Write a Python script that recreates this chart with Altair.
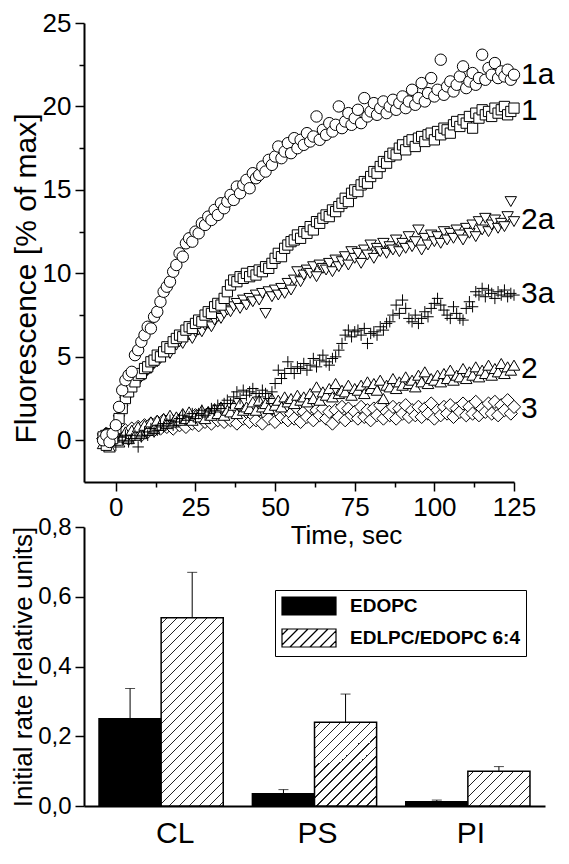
import altair as alt
import pandas as pd

# ---------------- data ----------------
TIME = [-4, -3, -2, -1, 0, 1, 2, 3, 4, 5,
        6, 7, 8, 9, 10, 11, 12, 13, 14, 15,
        16, 17, 18, 19, 20, 21, 22, 23, 24, 25,
        26, 27, 28, 29, 30, 31, 32, 33, 34, 35,
        36, 37, 38, 39, 40, 41, 42, 43, 44, 45,
        46, 47, 48, 49, 50, 51, 52, 53, 54, 55,
        56, 57, 58, 59, 60, 61, 62, 63, 64, 65,
        66, 67, 68, 69, 70, 71, 72, 73, 74, 75,
        76, 77, 78, 79, 80, 81, 82, 83, 84, 85,
        86, 87, 88, 89, 90, 91, 92, 93, 94, 95,
        96, 97, 98, 99, 100, 101, 102, 103, 104, 105,
        106, 107, 108, 109, 110, 111, 112, 113, 114, 115,
        116, 117, 118, 119, 120, 121, 122, 123, 124, 125]

S_1A = [0.0, 0.3, -0.1, 0.4, 0.9, 2.0, 3.0, 3.6, 3.9, 4.1,
        5.1, 5.4, 5.9, 6.3, 6.8, 6.7, 7.4, 7.7, 8.3, 8.9,
        9.2, 9.5, 10.1, 10.5, 11.2, 11.0, 11.8, 12.1, 11.9, 12.5,
        12.4, 13.0, 12.9, 13.4, 13.2, 13.8, 13.5, 14.2, 13.9, 14.3,
        14.7, 14.4, 15.2, 14.8, 15.3, 15.6, 15.1, 16.0, 15.7, 15.9,
        16.4, 16.1, 16.8, 16.5, 17.0, 17.6, 16.9, 17.3, 17.8, 17.2,
        18.1, 17.5, 18.0, 17.7, 18.4, 17.9, 18.2, 19.4, 18.0, 18.6,
        18.3, 19.0, 18.5, 18.9, 20.0, 18.7, 19.1, 19.6, 18.9, 19.3,
        19.8, 19.0, 20.5, 19.4, 19.7, 20.2, 19.5, 19.9, 20.3, 19.6,
        20.0, 20.4, 19.8, 20.2, 20.6, 19.9, 20.3, 21.0, 20.1, 20.5,
        21.4, 20.3, 20.8, 21.7, 20.6, 21.0, 22.8, 20.7, 21.2, 21.5,
        20.9, 21.3, 21.8, 22.4, 21.1, 21.5, 22.0, 21.3, 21.7, 23.1,
        21.6, 22.3, 21.9, 22.6, 21.7, 22.1, 21.8, 22.2, 21.6, 21.9]

S_1 = [0.2, -0.3, 0.4, 0.1, 0.7, 1.3, 1.9, 2.5, 2.9, 3.2,
       3.5, 3.9, 4.0, 4.3, 4.4, 4.7, 4.8, 5.1, 5.0, 5.3,
       5.6, 5.5, 5.9, 6.1, 6.3, 6.2, 6.6, 6.8, 6.7, 7.0,
       7.2, 7.1, 7.5, 7.7, 7.6, 8.0, 8.2, 8.1, 8.5, 8.9,
       9.3, 9.6, 9.5, 9.8, 9.7, 10.0, 9.8, 10.1, 9.9, 10.2,
       10.1, 10.4, 10.3, 10.6, 10.9, 11.2, 11.0, 11.5, 11.7, 11.9,
       12.0, 12.3, 12.1, 12.5, 12.4, 12.8, 12.6, 13.1, 13.0, 13.3,
       13.5, 13.4, 13.8, 13.7, 14.0, 14.2, 14.5, 14.3, 14.8, 15.0,
       14.9, 15.3, 15.5, 15.4, 15.8, 16.1, 16.0, 16.4, 16.7, 16.6,
       17.0, 17.2, 17.1, 17.5, 17.7, 17.4, 17.9, 18.0, 17.6, 18.1,
       18.2, 17.9, 18.3, 18.4, 18.0, 18.5, 18.3, 18.7, 18.6, 18.4,
       18.9, 19.1, 18.8, 19.2, 19.0, 19.4, 18.7, 19.6, 19.3, 19.8,
       19.5, 19.7, 19.4, 19.9, 19.6, 19.8, 20.0, 19.5, 19.7, 19.9]

S_2A = [0.1, 0.3, -0.2, 0.2, 0.6, 1.2, 1.8, 2.3, 2.7, 3.0,
        3.3, 3.5, 3.8, 3.9, 4.2, 4.3, 4.6, 4.7, 4.9, 5.1,
        5.3, 5.2, 5.6, 5.7, 5.9, 5.8, 6.2, 6.3, 6.1, 6.5,
        6.6, 6.5, 6.9, 7.0, 6.8, 7.2, 7.4, 7.3, 7.6, 7.8,
        7.7, 8.0, 8.2, 7.9, 8.4, 8.1, 8.5, 8.3, 8.7, 8.4,
        8.8, 7.6, 8.9, 8.6, 9.0, 8.7, 9.1, 8.8, 9.4, 9.0,
        9.6, 10.1, 9.5, 9.9, 10.2, 10.0, 10.4, 9.8, 10.5, 10.3,
        10.2, 10.6, 10.1, 10.8, 10.4, 10.7, 11.0, 10.5, 11.3, 10.9,
        11.2, 10.6, 11.4, 11.1, 11.7, 10.9, 11.5, 11.3, 11.8, 11.2,
        11.6, 11.4, 12.0, 11.3, 11.8, 11.5, 12.2, 11.6, 11.9, 12.6,
        11.4, 12.1, 11.7, 12.3, 11.9, 12.2, 11.8, 12.5, 12.0, 12.4,
        12.1, 12.6, 12.3, 12.0, 12.7, 12.4, 12.9, 12.2, 13.1, 12.6,
        13.3, 12.5, 12.9, 13.2, 12.7, 13.0, 12.8, 13.4, 14.3, 13.1]

S_3A = [0.3, -0.2, 0.1, 0.4, -0.3, 0.2, 0.0, 0.3, -0.1, 0.1,
        0.3, -0.4, 0.2, 0.5, 0.3, 0.7, 0.5, 0.6, 0.9, 0.8,
        1.0, 1.2, 0.9, 1.1, 1.3, 1.5, 1.2, 1.4, 1.6, 1.3,
        1.6, 1.8, 1.5, 1.7, 1.9, 1.8, 2.1, 1.9, 2.2, 2.4,
        2.2, 2.6, 2.9, 2.5, 3.0, 2.7, 2.9, 3.1, 2.8, 2.6,
        3.0, 2.8, 2.5, 2.9, 3.4, 4.2, 3.7, 4.0, 4.7, 4.3,
        4.0, 4.4, 4.3, 4.6, 4.2, 4.5, 4.9, 4.4, 4.8, 5.1,
        4.7, 4.5, 4.9, 5.0, 5.4, 5.8, 6.3, 6.6, 6.2, 6.5,
        6.6, 6.3, 6.7, 5.8, 6.4, 6.5, 6.3, 6.8, 6.6, 7.0,
        7.1, 7.5, 8.1, 7.6, 8.4, 7.9, 7.3, 7.1, 7.5, 7.0,
        7.3, 7.7, 7.4, 7.9, 8.2, 8.5, 8.1, 7.8, 7.5, 7.3,
        8.0, 7.6, 7.3, 7.2, 7.9, 8.3, 8.0, 8.9, 8.7, 9.1,
        8.6, 9.0, 8.8, 8.5, 8.9, 8.7, 9.0, 8.6, 8.8, 8.7]

S_2 = [-0.2, 0.3, -0.4, 0.1, 0.4, -0.1, 0.2, 0.5, 0.1, 0.6,
       0.3, 0.8, 0.4, 0.9, 0.6, 1.1, 0.7, 1.2, 0.9, 1.3,
       1.0, 1.5, 1.1, 1.4, 1.2, 1.6, 1.3, 1.7, 1.2, 1.5,
       1.4, 1.8, 1.3, 1.7, 1.5, 1.9, 1.6, 2.0, 1.5, 1.8,
       1.7, 2.1, 1.6, 2.2, 1.8, 2.0, 1.9, 2.3, 1.8, 2.4,
       2.0, 2.2, 1.9, 2.5, 2.1, 2.4, 2.0, 2.6, 2.3, 2.5,
       2.2, 2.7, 2.4, 2.6, 2.3, 2.8, 2.5, 3.2, 2.4, 2.9,
       2.7, 3.1, 2.6, 3.4, 2.8, 3.0, 2.9, 3.3, 2.7, 3.1,
       3.0, 3.3, 2.8, 3.5, 3.1, 3.4, 3.0, 3.6, 2.5, 3.3,
       3.2, 3.7, 3.1, 3.5, 3.3, 3.8, 3.4, 3.6, 3.2, 3.9,
       3.5, 4.1, 3.4, 3.7, 3.6, 3.9, 3.5, 4.0, 3.7, 4.2,
       3.6, 3.9, 3.8, 4.3, 3.7, 4.1, 3.9, 4.4, 3.8, 4.2,
       4.0, 4.5, 3.9, 4.3, 4.1, 4.6, 4.0, 4.4, 4.2, 4.5]

S_3 = [0.1, 0.4, -0.2, 0.3, 0.0, 0.5, 0.2, 0.6, 0.1, 0.7,
       0.4, 0.8, 0.3, 0.9, 0.5, 1.0, 0.6, 1.1, 0.7, 1.2,
       0.8, 1.3, 0.7, 1.2, 0.9, 1.4, 0.8, 1.3, 1.0, 1.5,
       0.9, 1.4, 1.1, 1.6, 1.0, 1.5, 1.2, 1.7, 1.1, 1.4,
       1.2, 1.8, 1.0, 1.6, 1.3, 1.7, 1.1, 1.5, 1.2, 1.8,
       1.0, 1.6, 1.3, 1.9, 1.1, 1.7, 1.4, 1.8, 1.2, 1.6,
       1.3, 1.9, 1.1, 1.7, 1.4, 2.0, 1.2, 1.8, 1.5, 1.9,
       1.3, 1.7, 1.0, 1.8, 1.4, 2.0, 1.2, 1.9, 1.5, 1.7,
       1.3, 2.0, 1.4, 1.8, 1.2, 1.9, 1.5, 2.1, 1.3, 1.7,
       1.5, 2.0, 1.3, 1.9, 1.6, 2.1, 1.4, 1.8, 1.5, 2.0,
       1.4, 1.9, 1.6, 2.2, 1.3, 1.8, 1.5, 2.0, 1.6, 2.1,
       1.4, 1.9, 1.7, 2.2, 1.5, 2.0, 1.6, 2.3, 1.5, 1.9,
       1.7, 2.2, 1.6, 2.3, 1.5, 2.1, 1.8, 2.4, 1.6, 2.0]

SERIES = ["1a", "1", "2a", "3a", "2", "3"]
SERIES_VALUES = [S_1A, S_1, S_2A, S_3A, S_2, S_3]

CATS = ["CL", "PS", "PI"]
GROUPS = ["EDOPC", "EDLPC/EDOPC 6:4"]
RATE_EDOPC = [0.25, 0.035, 0.012]
ERR_EDOPC = [0.087, 0.012, 0.005]
RATE_MIX = [0.54, 0.24, 0.10]
ERR_MIX = [0.13, 0.081, 0.013]

X_TICKS = [0, 12.5, 25, 37.5, 50, 62.5, 75, 87.5, 100, 112.5, 125]
Y_TICKS = [0, 2.5, 5, 7.5, 10, 12.5, 15, 17.5, 20, 22.5, 25]
R_TICKS = [0, 0.1, 0.2, 0.3, 0.4, 0.5, 0.6, 0.7, 0.8]

# ---------------- layout / style ----------------
FONT = "Liberation Sans"
W_TOP, H_TOP = 430, 459
W_BOT, H_BOT = 461, 279
GAP = 45
R_MAX = 0.8
PAD_IN, PAD_OUT = 0.19, 0.098

ts = pd.DataFrame(
    [{"series": s, "t": t, "v": v}
     for s, vals in zip(SERIES, SERIES_VALUES) for t, v in zip(TIME, vals)]
)

xs = alt.Scale(domain=[-10, 125], nice=False, zero=False)
ys = alt.Scale(domain=[-2.5, 25], nice=False, zero=False)

common_axis = dict(
    grid=False, domainColor="black", domainWidth=2, tickColor="black", tickWidth=1.5,
    labelColor="black", labelFont=FONT, titleFont=FONT, titleColor="black",
    titleFontWeight="normal", labelOverlap=False, labelFlush=False,
)

x_axis = alt.Axis(
    values=X_TICKS, format="d",
    labelExpr="datum.value % 25 === 0 ? datum.label : ''",
    tickSize={"condition": {"test": "datum.value % 25 === 0", "value": 9}, "value": 5},
    labelFontSize=26, labelPadding=3,
    title="Time, sec", titleFontSize=26, titleX=262, titlePadding=2,
    **common_axis,
)
y_axis = alt.Axis(
    values=Y_TICKS, format="d",
    labelExpr="datum.value % 5 === 0 ? datum.label : ''",
    tickSize={"condition": {"test": "datum.value % 5 === 0", "value": 9}, "value": 5},
    labelFontSize=26, labelPadding=4,
    title="Fluorescence [% of max]", titleFontSize=30, titlePadding=1, titleY=255,
    **common_axis,
)

STYLE = {
    "1a": ("circle", 130),
    "1": ("square", 105),
    "2a": ("triangle-down", 130),
    "3a": ("M-1,0H1M0,-1V1", 130),
    "2": ("triangle-up", 135),
    "3": ("diamond", 175),
}

base = alt.Chart(ts)
top_layers = []
for s in ["3", "2", "3a", "2a", "1", "1a"]:
    shape, size = STYLE[s]
    top_layers.append(
        base.transform_filter(alt.datum.series == s)
        .mark_point(shape=shape, size=size, filled=True, fill="white",
                    stroke="black", strokeWidth=1, opacity=1)
        .encode(x=alt.X("t:Q", scale=xs, axis=x_axis),
                y=alt.Y("v:Q", scale=ys, axis=y_axis))
    )

labels = (
    base.transform_filter(alt.datum.t >= 120)
    .transform_aggregate(v="mean(v)", t="max(t)", groupby=["series"])
    .mark_text(align="left", baseline="middle", dx=7, font=FONT, fontSize=30, color="black")
    .encode(x=alt.X("t:Q", scale=xs), y=alt.Y("v:Q", scale=ys), text="series:N")
)

top = alt.layer(*top_layers, labels).properties(width=W_TOP, height=H_TOP)

# ---------------- bottom: bar chart ----------------
rates = pd.DataFrame({
    "cat": CATS + CATS,
    "group": [GROUPS[0]] * 3 + [GROUPS[1]] * 3,
    "value": RATE_EDOPC + RATE_MIX,
    "err": ERR_EDOPC + ERR_MIX,
})

step = W_BOT / (len(CATS) - PAD_IN + 2 * PAD_OUT)
bar_w = step * (1 - PAD_IN) / len(GROUPS)


def hatch_gradient(w, h, spacing=10.0, lw=1.6, color="#222222"):
    L = w + h
    k = L / (w * w + h * h)
    stops = [{"offset": 0, "color": "white"}]
    c = spacing * 0.6
    while c < L:
        o1 = max(0.0, (c - lw / 2) / L)
        o2 = min(1.0, (c + lw / 2) / L)
        stops += [{"offset": o1, "color": "white"}, {"offset": o1, "color": color},
                  {"offset": o2, "color": color}, {"offset": o2, "color": "white"}]
        c += spacing
    stops.append({"offset": 1, "color": "white"})
    return {"gradient": "linear", "x1": 0, "y1": 0, "x2": w * k, "y2": h * k, "stops": stops}


# legend swatches: unit = 9 px (symbolSize 18*18); swatch 6 x 2 units = 54 x 18 px
def hatch_symbol(step_u=1.11):
    parts = ["M-3,-1H3V1H-3Z"]
    x0 = -3.0 - 2.0 + step_u * 0.6
    while x0 < 3.0:
        sx, sy = x0, 1.0
        ex, ey = x0 + 2.0, -1.0
        if sx < -3:
            sy = 1.0 - (-3 - sx)
            sx = -3
        if ex > 3:
            ey = 1.0 - (3 - x0)
            ex = 3
        parts.append(f"M{sx:.3f},{sy:.3f}L{ex:.3f},{ey:.3f}")
        x0 += step_u
    return "".join(parts)


BLACK_SYMBOL = "M-3,-1H3V1H-3Z"
HATCH_SYMBOL = hatch_symbol()

xb = alt.X("cat:N", sort=CATS,
           scale=alt.Scale(domain=CATS, paddingInner=PAD_IN, paddingOuter=PAD_OUT),
           axis=alt.Axis(title=None, labelAngle=0, ticks=False, tickSize=0,
                         labelFontSize=30, labelPadding=12,
                         labelOffset={"condition": {"test": "datum.value === 'CL'", "value": 14},
                                      "value": 3},
                         **common_axis))
xo = alt.XOffset("group:N", sort=GROUPS,
                 scale=alt.Scale(domain=GROUPS, paddingInner=0, paddingOuter=0))
yb_axis = alt.Axis(
    values=R_TICKS,
    labelExpr="round(datum.value * 10) % 2 === 0 ? replace(format(datum.value, '.1f'), '.', ',') : ''",
    tickSize={"condition": {"test": "round(datum.value * 10) % 2 === 0", "value": 9}, "value": 5},
    labelFontSize=24, labelPadding=4,
    title="Initial rate [relative units]", titleFontSize=26, titlePadding=1,
    **common_axis,
)
yb = alt.Y("value:Q", scale=alt.Scale(domain=[0, R_MAX], nice=False), axis=yb_axis)

rb = alt.Chart(rates)
black_bars = (
    rb.transform_filter(alt.datum.group == GROUPS[0])
    .mark_bar(fill="black", stroke="black", strokeWidth=1.5)
    .encode(x=xb, xOffset=xo, y=yb)
)
hatched = []
for c, v in zip(CATS, RATE_MIX):
    h = v / R_MAX * H_BOT
    hatched.append(
        rb.transform_filter((alt.datum.group == GROUPS[1]) & (alt.datum.cat == c))
        .mark_bar(fill=hatch_gradient(bar_w, h), stroke="black", strokeWidth=1.5)
        .encode(x=xb, xOffset=xo, y=yb)
    )

err_rule = (
    rb.transform_calculate(upper="datum.value + datum.err")
    .mark_rule(color="black", strokeWidth=1)
    .encode(x=xb, xOffset=xo, y=alt.Y("value:Q"), y2="upper:Q")
)
err_cap = (
    rb.transform_calculate(upper="datum.value + datum.err")
    .mark_tick(color="black", thickness=1, size=10, orient="horizontal")
    .encode(x=xb, xOffset=xo, y=alt.Y("upper:Q"))
)

# legend is placed relative to the concat origin (top plot's top-left corner)
LEG = alt.Legend(
    title=None, orient="none", legendX=191, legendY=H_TOP + GAP + 63, direction="vertical",
    labelFont=FONT, labelFontSize=19, labelFontWeight="bold", labelColor="black",
    labelOffset=31, labelLimit=400, symbolSize=324, symbolOffset=18,
    symbolStrokeColor="black", symbolStrokeWidth=1.2, symbolOpacity=1,
    strokeColor="black", fillColor="white", padding=6, rowPadding=8, cornerRadius=0,
)
legend_pts = (
    rb.mark_point(filled=True, size=0)
    .encode(
        x=xb, xOffset=xo, y=yb,
        fill=alt.Fill("group:N", sort=GROUPS,
                      scale=alt.Scale(domain=GROUPS, range=["black", "white"]), legend=LEG),
        stroke=alt.Stroke("group:N", sort=GROUPS,
                          scale=alt.Scale(domain=GROUPS, range=["black", "black"]), legend=LEG),
        shape=alt.Shape("group:N", sort=GROUPS,
                        scale=alt.Scale(domain=GROUPS, range=[BLACK_SYMBOL, HATCH_SYMBOL]),
                        legend=LEG),
    )
)

bottom = alt.layer(black_bars, *hatched, err_rule, err_cap, legend_pts).properties(
    width=W_BOT, height=H_BOT)

chart = (
    alt.vconcat(top, bottom, spacing=GAP, bounds="flush")
    .properties(padding={"left": 2, "top": 2, "right": 0, "bottom": 0})
    .configure(font=FONT)
    .configure_view(stroke=None)
)

chart.save("out.html", embed_options={"renderer": "svg", "actions": False})
